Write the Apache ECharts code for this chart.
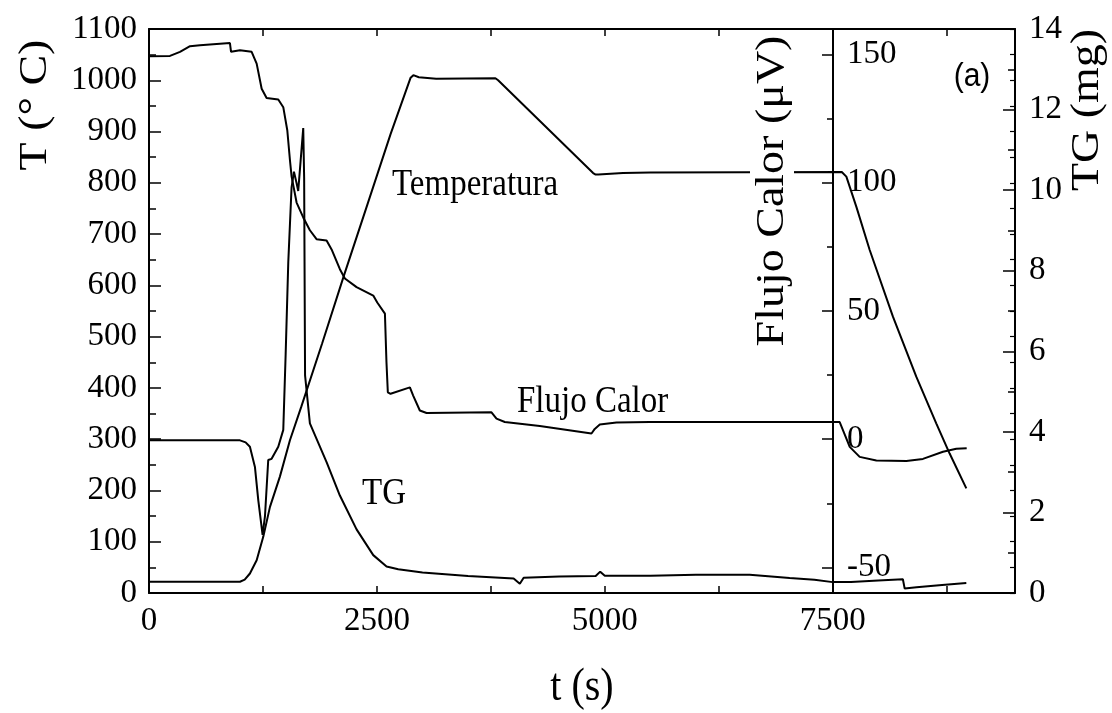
<!DOCTYPE html>
<html><head><meta charset="utf-8">
<script src="https://cdn.jsdelivr.net/npm/echarts@6/dist/echarts.min.js"></script>
<style>html,body{margin:0;padding:0;background:#fff}#c{width:1112px;height:713px}</style>
</head><body><div id="c"></div>
<script>
// ---- data ----
const tempTime  = [0, 998, 1050, 1107, 1181, 1254, 1327, 1436, 1546, 1670, 1900, 2131, 2400, 2650, 2870, 2900, 2960, 3150, 3800, 3830, 4872, 4900, 4930, 5200, 5500, 7600, 7650, 7760, 7906, 8161, 8417, 8636, 8783, 8966];
const tempValue = [22, 22, 26, 38, 64, 110, 168, 227, 298, 363, 487, 615, 760, 895, 1005, 1010, 1006, 1003, 1004, 1000, 819, 816, 816, 819, 820, 821, 812, 753, 669, 539, 422, 331, 272, 204];

const flujoTime  = [0, 230, 340, 450, 559, 888, 900, 998, 1126, 1181, 1236, 1290, 1418, 1473, 1517, 1546, 1564, 1619, 1692, 1765, 1838, 1948, 2003, 2094, 2149, 2277, 2460, 2504, 2588, 2605, 2620, 2650, 2862, 2898, 2971, 3045, 3757, 3812, 3903, 4287, 4854, 4890, 4945, 5128, 5494, 6500, 7577, 7687, 7796, 7979, 8308, 8490, 8710, 8856, 8970];
const flujoValue = [149.4, 149.5, 151.1, 153.3, 153.7, 154.5, 151.1, 151.7, 151.1, 146.5, 136.7, 133.1, 132.5, 129.5, 120.5, 108.9, 102.5, 92.3, 86.5, 81.5, 78, 77.5, 74, 66.3, 62.7, 59.3, 56, 53.3, 49, 30, 18.3, 17.7, 20.2, 17, 11.2, 10.2, 10.5, 8, 6.7, 5.1, 2.2, 4, 5.7, 6.5, 6.7, 6.7, 6.7, -3, -6.9, -8.3, -8.5, -7.7, -4.9, -3.7, -3.5];

const tgTime  = [0, 998, 1060, 1107, 1162, 1199, 1246, 1272, 1308, 1345, 1418, 1473, 1499, 1528, 1564, 1590, 1619, 1637, 1663, 1692, 1702, 1712, 1765, 1948, 2094, 2277, 2460, 2606, 2734, 3000, 3500, 4000, 4068, 4110, 4500, 4900, 4950, 5000, 5500, 6000, 6590, 7028, 7300, 7500, 7700, 8000, 8270, 8290, 8420, 8700, 8966];
const tgValue = [3.79, 3.79, 3.74, 3.63, 3.13, 2.30, 1.44, 1.90, 3.30, 3.33, 3.63, 4.05, 5.92, 8.22, 10.07, 10.46, 10.17, 9.98, 10.72, 11.54, 10.3, 5.4, 4.21, 3.25, 2.42, 1.58, 0.94, 0.66, 0.59, 0.51, 0.42, 0.36, 0.23, 0.38, 0.41, 0.42, 0.53, 0.43, 0.43, 0.45, 0.45, 0.37, 0.33, 0.27, 0.27, 0.31, 0.34, 0.11, 0.14, 0.2, 0.25];

const xTickLabels      = [0, 2500, 5000, 7500];
const flujoTickLabels  = [-50, 0, 50, 100, 150];
const flujoMinorTicks  = [-25, 25, 75, 125];

const zip = (a, b) => a.map((v, i) => [v, b[i]]);
const SERIF = 'Liberation Serif';
const black = '#000';

const chart = echarts.init(document.getElementById('c'), null, {renderer: 'canvas'});
const lineW = 2;
const axisLineStyle = {show: true, onZero: false, lineStyle: {color: black, width: 2}};
const noLine = {show: false, onZero: false};
const noSplit = {show: false};
const plain = v => String(v);

chart.setOption({
  animation: false,
  backgroundColor: '#fff',
  grid: {left: 149, top: 29, width: 866, height: 564, containLabel: false},
  xAxis: [
    {type: 'value', min: 0, max: 9500, interval: 1250, position: 'bottom',
     axisLine: axisLineStyle,
     axisTick: {show: true, inside: true, length: 7, lineStyle: {color: black, width: 1.5}},
     axisLabel: {margin: 12, color: black, fontFamily: SERIF, fontSize: 33,
                 formatter: v => xTickLabels.indexOf(v) >= 0 ? String(v) : ''},
     splitLine: noSplit},
    {type: 'value', min: 0, max: 9500, interval: 1250, position: 'top',
     axisLine: axisLineStyle,
     axisTick: {show: true, inside: true, length: 7, lineStyle: {color: black, width: 1.5}},
     axisLabel: {show: false}, splitLine: noSplit}
  ],
  yAxis: [
    {type: 'value', min: 0, max: 1100, interval: 100, position: 'left',
     axisLine: axisLineStyle,
     axisTick: {show: true, inside: true, length: 12, lineStyle: {color: black, width: 1.5}},
     minorTick: {show: true, splitNumber: 2, length: 7, lineStyle: {color: black, width: 1.5}},
     axisLabel: {margin: 12, color: black, fontFamily: SERIF, fontSize: 33, formatter: plain},
     splitLine: noSplit, minorSplitLine: {show: false}},
    {type: 'value', min: -60, max: 160, position: 'right', offset: -182,
     axisLine: axisLineStyle,
     axisTick: {show: true, inside: true, length: 11, customValues: flujoTickLabels, lineStyle: {color: black, width: 1.5}},
     axisLabel: {margin: 14, color: black, fontFamily: SERIF, fontSize: 33, customValues: flujoTickLabels, formatter: plain},
     splitLine: noSplit},
    {type: 'value', min: 0, max: 14, interval: 2, position: 'right',
     axisLine: axisLineStyle,
     axisTick: {show: true, inside: true, length: 12, lineStyle: {color: black, width: 1.5}},
     minorTick: {show: true, splitNumber: 2, length: 7, lineStyle: {color: black, width: 1.5}},
     axisLabel: {margin: 14, color: black, fontFamily: SERIF, fontSize: 33, formatter: plain},
     splitLine: noSplit, minorSplitLine: {show: false}},
    {type: 'value', min: 0, max: 1100, interval: 50, position: 'right',
     axisLine: noLine,
     axisTick: {show: true, inside: true, length: 5, lineStyle: {color: black, width: 1.2}},
     axisLabel: {show: false}, splitLine: noSplit},
    {type: 'value', min: -60, max: 160, position: 'right', offset: -182,
     axisLine: noLine,
     axisTick: {show: true, inside: true, length: 6, customValues: flujoMinorTicks, lineStyle: {color: black, width: 1.5}},
     axisLabel: {show: false}, splitLine: noSplit}
  ],
  series: [
    {type: 'line', name: 'Temperatura', xAxisIndex: 0, yAxisIndex: 0, data: zip(tempTime, tempValue),
     showSymbol: false, symbol: 'none', lineStyle: {color: black, width: lineW}, z: 3},
    {type: 'line', name: 'Flujo Calor', xAxisIndex: 0, yAxisIndex: 1, data: zip(flujoTime, flujoValue),
     showSymbol: false, symbol: 'none', lineStyle: {color: black, width: lineW}, z: 3},
    {type: 'line', name: 'TG', xAxisIndex: 0, yAxisIndex: 2, data: zip(tgTime, tgValue),
     showSymbol: false, symbol: 'none', lineStyle: {color: black, width: lineW}, z: 3}
  ],
  graphic: [
    {type: 'text', x: 392, y: 185, scaleY: 1.15, z: 100,
     style: {text: 'Temperatura', fontFamily: SERIF, fontSize: 33, fill: black, textAlign: 'left', align: 'left', textVerticalAlign: 'middle', verticalAlign: 'middle'}},
    {type: 'text', x: 517, y: 402, scaleY: 1.15, z: 100,
     style: {text: 'Flujo Calor', fontFamily: SERIF, fontSize: 33, fill: black, textAlign: 'left', align: 'left', textVerticalAlign: 'middle', verticalAlign: 'middle'}},
    {type: 'text', x: 362, y: 494, scaleY: 1.15, z: 100,
     style: {text: 'TG', fontFamily: SERIF, fontSize: 33, fill: black, textAlign: 'left', align: 'left', textVerticalAlign: 'middle', verticalAlign: 'middle'}},
    {type: 'text', x: 972, y: 77, scaleY: 1.1, z: 100,
     style: {text: '(a)', fontFamily: 'Liberation Sans', fontSize: 30, fill: black, textAlign: 'center', align: 'center', textVerticalAlign: 'middle', verticalAlign: 'middle'}},
    {type: 'text', x: 35, y: 105, rotation: Math.PI / 2, scaleX: 1.15, z: 100,
     style: {text: 'T (° C)', fontFamily: SERIF, fontSize: 40, fill: black, textAlign: 'center', align: 'center', textVerticalAlign: 'middle', verticalAlign: 'middle'}},
    {type: 'text', x: 772, y: 191, rotation: Math.PI / 2, scaleX: 1.15, z: 100,
     style: {text: 'Flujo Calor (μV)', fontFamily: SERIF, fontSize: 40, fill: black, backgroundColor: '#fff', padding: [2, 4], textAlign: 'center', align: 'center', textVerticalAlign: 'middle', verticalAlign: 'middle'}},
    {type: 'text', x: 1087, y: 110, rotation: Math.PI / 2, scaleX: 1.15, z: 100,
     style: {text: 'TG (mg)', fontFamily: SERIF, fontSize: 40, fill: black, textAlign: 'center', align: 'center', textVerticalAlign: 'middle', verticalAlign: 'middle'}},
    {type: 'text', x: 582, y: 688, scaleY: 1.15, z: 100,
     style: {text: 't (s)', fontFamily: SERIF, fontSize: 40, fill: black, textAlign: 'center', align: 'center', textVerticalAlign: 'middle', verticalAlign: 'middle'}}
  ]
});
</script>
</body></html>
